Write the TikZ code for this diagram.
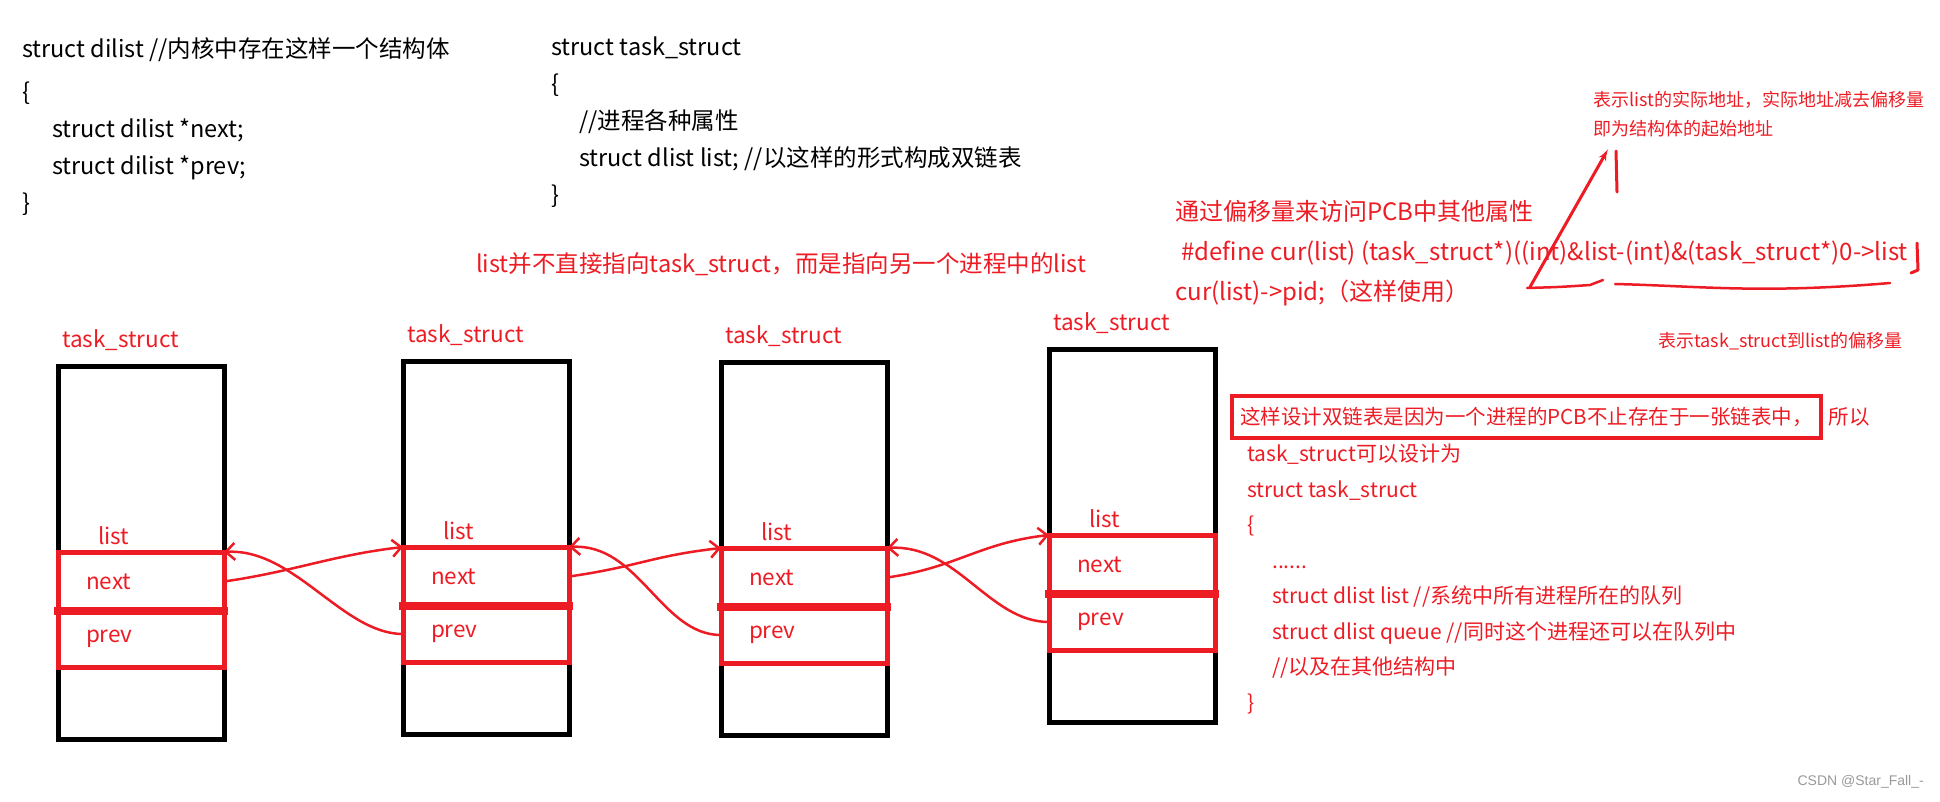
\documentclass[tikz,border=0pt]{standalone}
\usepackage{fontspec}
\setmainfont{Noto Sans CJK SC}
\newfontfamily\markfont{Liberation Sans}
\usetikzlibrary{arrows,arrows.meta,positioning,calc}
\definecolor{paintred}{HTML}{ED1C24}

\begin{document}
\begin{tikzpicture}[
    x=1pt, y=-1pt,
    code/.style={anchor=north west, inner sep=0pt, align=left, font=\fontsize{23.5}{37}\selectfont},
    note/.style={inner sep=0pt, text=paintred, font=\fontsize{23.5}{28}\selectfont},
    taskbox/.style={draw, line width=5pt, outer sep=0pt, minimum width=166pt, minimum height=373pt, inner sep=0pt},
    tasklbl/.style={inner sep=0pt, text=paintred, font=\fontsize{22.5}{26}\selectfont},
    field/.style={draw=paintred, line width=5pt, outer sep=0pt, text=paintred, text width=110pt, inner xsep=28pt, inner ysep=0pt, align=left, minimum height=59pt, font=\fontsize{22.5}{26}\selectfont},
    divider/.style={draw=paintred, line width=8pt},
    link/.style={draw=paintred, line width=2.5pt, -{Straight Barb[length=9pt,width=17pt]}},
    scribble/.style={draw=paintred, line width=3pt, line cap=round, line join=round}
]
    \useasboundingbox (0,0) rectangle (1940,801);

    % code at the top
    \node[code] (dilist) at (22,37) {struct dilist //内核中存在这样一个结构体\\[6pt] \{\\ \hspace*{30pt}struct dilist *next;\\ \hspace*{30pt}struct dilist *prev;\\ \}};
    \node[code] (taskdef) at (551,37) {struct task\_struct\\ \{\\ \hspace*{28pt}//进程各种属性\\ \hspace*{28pt}struct dlist list; //以这样的形式构成双链表\\ \}};
    \node[note, anchor=west] (remark) at (476,264) {list并不直接指向task\_struct，而是指向另一个进程中的list};

    % offset macro
    \node[code, text=paintred, font=\fontsize{24}{40}\selectfont] (offset) at (1175,200) {通过偏移量来访问PCB中其他属性\\ \hspace*{6pt}\#define cur(list) (task\_struct*)((int)\&list-(int)\&(task\_struct*)0->list\\ cur(list)->pid;（这样使用）};
    \node[code, text=paintred, font=\fontsize{18}{29}\selectfont] (addr) at (1593,91) {表示list的实际地址，实际地址减去偏移量\\即为结构体的起始地址};
    \node[note, anchor=west, font=\fontsize{18}{22}\selectfont] (gap) at (1658,341) {表示task\_struct到list的偏移量};

    \coordinate (tail) at (1530,287);
    \draw[scribble, -latex'] (tail) -- ([xshift=15pt,yshift=-12pt]addr.south west);
    \draw[scribble] (1616,151) -- (1617,192);
    \draw[scribble, line width=2.5pt] (1527,288) .. controls (1560,287) .. (1590,285) -- (1603,280);
    \draw[scribble, line width=2.5pt] (1615,284) .. controls (1700,286) and (1760,294) .. (1890,283);
    \draw[scribble] (1917,243) -- (1918,270) -- (1911,273);

    % design note on the right
    \node[note, draw=paintred, line width=4pt, anchor=west, inner xsep=8pt, minimum height=42pt, font=\fontsize{20.5}{24}\selectfont] (why) at (1230,417) {这样设计双链表是因为一个进程的PCB不止存在于一张链表中，};
    \node[note, right=6pt of why, font=\fontsize{20.5}{24}\selectfont] (so) {所以};
    \node[code, text=paintred, font=\fontsize{21}{35.5}\selectfont] (design) at (1247,444) {task\_struct可以设计为\\ struct task\_struct\\ \{\\ \hspace*{25pt}......\\ \hspace*{25pt}struct dlist list //系统中所有进程所在的队列\\ \hspace*{25pt}struct dlist queue //同时这个进程还可以在队列中\\ \hspace*{25pt}//以及在其他结构中\\ \}};

    % process 1
    \node[taskbox, anchor=north west] (task1) at (58,366) {};
    \node[tasklbl, above right=15pt and 4pt of task1.north west] (name1) {task\_struct};
    \node[field, below right=186pt and 0pt of task1.north west] (next1) {next};
    \node[field, minimum height=56pt, below=0pt of next1] (prev1) {prev};
    \node[tasklbl, above right=7pt and 40pt of next1.north west] (list1) {list};
    \draw[divider] ([xshift=-4pt]next1.south west) -- ([xshift=4pt]next1.south east);

    % process 2
    \node[taskbox, anchor=north west] (task2) at (403,361) {};
    \node[tasklbl, above right=15pt and 4pt of task2.north west] (name2) {task\_struct};
    \node[field, below right=186pt and 0pt of task2.north west] (next2) {next};
    \node[field, minimum height=56pt, below=0pt of next2] (prev2) {prev};
    \node[tasklbl, above right=7pt and 40pt of next2.north west] (list2) {list};
    \draw[divider] ([xshift=-4pt]next2.south west) -- ([xshift=4pt]next2.south east);

    % process 3
    \node[taskbox, anchor=north west] (task3) at (721,362) {};
    \node[tasklbl, above right=15pt and 4pt of task3.north west] (name3) {task\_struct};
    \node[field, below right=186pt and 0pt of task3.north west] (next3) {next};
    \node[field, minimum height=56pt, below=0pt of next3] (prev3) {prev};
    \node[tasklbl, above right=7pt and 40pt of next3.north west] (list3) {list};
    \draw[divider] ([xshift=-4pt]next3.south west) -- ([xshift=4pt]next3.south east);

    % process 4
    \node[taskbox, anchor=north west] (task4) at (1049,349) {};
    \node[tasklbl, above right=15pt and 4pt of task4.north west] (name4) {task\_struct};
    \node[field, below right=186pt and 0pt of task4.north west] (next4) {next};
    \node[field, minimum height=56pt, below=0pt of next4] (prev4) {prev};
    \node[tasklbl, above right=7pt and 40pt of next4.north west] (list4) {list};
    \draw[divider] ([xshift=-4pt]next4.south west) -- ([xshift=4pt]next4.south east);

    % next and prev pointers
    \draw[link] (next1.east) .. controls +(70,-10) and +(-70,8) .. (next2.north west);
    \draw[link] (prev2.west) .. controls +(-60,0) and +(70,-4) .. (next1.north east);
    \draw[link] (next2.east) .. controls +(70,-10) and +(-70,8) .. (next3.north west);
    \draw[link] (prev3.west) .. controls +(-60,0) and +(70,-4) .. (next2.north east);
    \draw[link] (next3.east) .. controls +(70,-10) and +(-70,8) .. (next4.north west);
    \draw[link] (prev4.west) .. controls +(-60,0) and +(70,-4) .. (next3.north east);

    \node[anchor=east, inner sep=0pt, text=black!40, font=\markfont\fontsize{14}{16}\selectfont] (credit) at (1924,782) {CSDN @Star\_Fall\_-};
\end{tikzpicture}
\end{document}
